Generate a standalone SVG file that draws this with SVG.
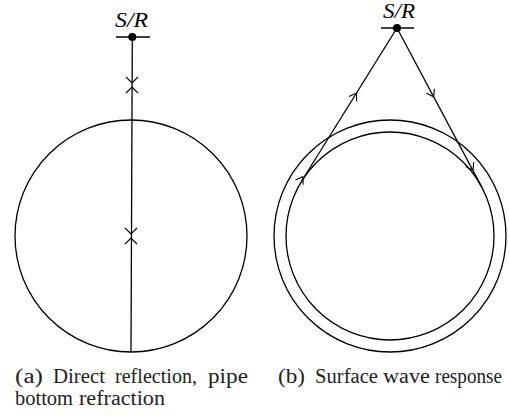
<svg xmlns="http://www.w3.org/2000/svg" width="509" height="419" viewBox="0 0 509 419">
<style>
.ln{fill:none;stroke:#000;stroke-width:1.3}
.ah{fill:none;stroke:#000;stroke-width:1.1}
.lab{font-family:"Liberation Serif",serif;font-style:italic;font-size:20px;fill:#000}
.cap{font-family:"Liberation Serif",serif;font-size:20.5px;fill:#222}
</style>
<rect width="509" height="419" fill="#fff"/>
<g id="pipe-a">
<circle class="ln" cx="131" cy="236" r="116"/>
</g>
<g id="sr-a">
<line class="ln" x1="116" y1="37" x2="150" y2="37"/>
<circle cx="132.3" cy="37" r="4" fill="#000"/>
<text class="lab" x="115" y="27" textLength="33" lengthAdjust="spacingAndGlyphs">S/R</text>
</g>
<g id="pipe-b">
<circle class="ln" cx="390" cy="236" r="116"/>
<circle class="ln" cx="390" cy="236" r="104"/>
</g>
<g id="sr-b">
<line class="ln" x1="381" y1="28" x2="414" y2="28"/>
<circle cx="397" cy="28" r="4" fill="#000"/>
<text class="lab" x="383" y="18" textLength="32" lengthAdjust="spacingAndGlyphs">S/R</text>
</g>
<g id="connectors">
<line class="ln" x1="132.3" y1="37" x2="131" y2="352"/>
<path class="ah" d="M126,77 L132,83 L138,77 M126,93 L132,87 L138,93"/>
<path class="ah" d="M125,228 L131,234 L137,228 M125,244 L131,238 L137,244"/>
<line class="ln" x1="397" y1="28" x2="301.7" y2="181"/>
<line class="ln" x1="397" y1="28" x2="481.8" y2="187.1"/>
<path class="ah" d="M0,0 L-7,-4.5 M0,0 L-7,4.5" transform="translate(356.5,93) rotate(-58.1)"/>
<path class="ah" d="M0,0 L-7,-4.5 M0,0 L-7,4.5" transform="translate(303,176.5) rotate(-58.1)"/>
<path class="ah" d="M0,0 L-7,-4.5 M0,0 L-7,4.5" transform="translate(433.7,97) rotate(62)"/>
<path class="ah" d="M0,0 L-7,-4.5 M0,0 L-7,4.5" transform="translate(473,170.5) rotate(62)"/>
</g>
<g id="captions">
<text class="cap" y="383" lengthAdjust="spacingAndGlyphs"><tspan x="15" textLength="28" lengthAdjust="spacingAndGlyphs">(a)</tspan><tspan x="53" textLength="52" lengthAdjust="spacingAndGlyphs">Direct</tspan><tspan x="115" textLength="82" lengthAdjust="spacingAndGlyphs">reflection,</tspan><tspan x="208" textLength="40" lengthAdjust="spacingAndGlyphs">pipe</tspan></text>
<text class="cap" y="405"><tspan x="15" textLength="58" lengthAdjust="spacingAndGlyphs">bottom</tspan><tspan x="79" textLength="86" lengthAdjust="spacingAndGlyphs">refraction</tspan></text>
<text class="cap" y="383"><tspan x="278" textLength="27" lengthAdjust="spacingAndGlyphs">(b)</tspan><tspan x="315" textLength="63" lengthAdjust="spacingAndGlyphs">Surface</tspan><tspan x="383" textLength="47" lengthAdjust="spacingAndGlyphs">wave</tspan><tspan x="435" textLength="67" lengthAdjust="spacingAndGlyphs">response</tspan></text>
</g>
</svg>
